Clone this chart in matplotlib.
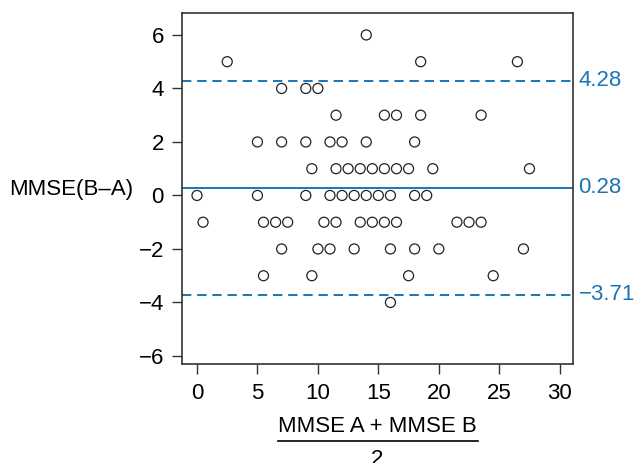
import matplotlib
matplotlib.use("Agg")
import matplotlib.pyplot as plt
from matplotlib.lines import Line2D

plt.rcParams["font.family"] = ["Liberation Sans", "DejaVu Sans"]

# Bland-Altman data: mean of the two scores (x) and difference B-A (y)
mean_ab = [14,
           2.5, 18.5, 26.5,
           7, 9, 10,
           11.5, 15.5, 16.5, 18.5, 23.5,
           5, 7, 9, 11, 12, 14, 18,
           9.5, 11.5, 12.5, 13.5, 14.5, 15.5, 16.5, 17.5, 19.5, 27.5,
           0, 5, 9, 11, 12, 13, 14, 15, 16, 18, 19,
           0.5, 5.5, 6.5, 7.5, 10.5, 11.5, 13.5, 14.5, 15.5, 16.5, 21.5, 22.5, 23.5,
           7, 10, 11, 13, 16, 18, 20, 27,
           5.5, 9.5, 17.5, 24.5,
           16]
diff_ba = [6,
           5, 5, 5,
           4, 4, 4,
           3, 3, 3, 3, 3,
           2, 2, 2, 2, 2, 2, 2,
           1, 1, 1, 1, 1, 1, 1, 1, 1, 1,
           0, 0, 0, 0, 0, 0, 0, 0, 0, 0, 0,
           -1, -1, -1, -1, -1, -1, -1, -1, -1, -1, -1, -1, -1,
           -2, -2, -2, -2, -2, -2, -2, -2,
           -3, -3, -3, -3,
           -4]

bias = 0.28
upper_loa = 4.28
lower_loa = -3.71

blue = "#1b74b6"
fs = 16

fig = plt.figure(figsize=(6.34, 4.63), dpi=100)
ax = fig.add_axes([182 / 634, 1 - 364 / 463, (573 - 182) / 634, (364 - 13) / 463])

ax.scatter(mean_ab, diff_ba, s=52, facecolors="none", edgecolors="#222222",
           linewidths=0.9, zorder=3)

ax.axhline(bias, color=blue, lw=1.4)
ax.axhline(upper_loa, color=blue, lw=1.4, linestyle=(0, (4.8, 3.0)))
ax.axhline(lower_loa, color=blue, lw=1.4, linestyle=(0, (4.8, 3.0)))

for val in [upper_loa, bias, lower_loa]:
    ax.annotate(f"{val:.2f}".replace("-", "\u2212"), xy=(1, val),
                xycoords=("axes fraction", "data"), xytext=(4, 0),
                textcoords="offset points", ha="left", va="center",
                color=blue, fontsize=fs)

ax.set_xlim(-1.24, 31.1)
ax.set_ylim(-6.3, 6.82)
ax.set_xticks(range(0, 31, 5))
ax.set_yticks(range(-6, 7, 2))
ax.tick_params(direction="out", length=7, width=1, labelsize=fs, color="#333333")
ax.tick_params(axis="x", pad=7)
ax.tick_params(axis="y", pad=6)
for sp in ax.spines.values():
    sp.set_linewidth(1.2)
    sp.set_color("#333333")

# y label, horizontal at left
fig.text(9 / 634, 1 - 189 / 463, "MMSE(B\u2013A)", ha="left", va="center", fontsize=fs)

# x label as a fraction
fig.text(377.5 / 634, 1 - 432 / 463, "MMSE A + MMSE B", ha="center", va="baseline", fontsize=fs)
fig.add_artist(Line2D([278 / 634, 478 / 634], [1 - 441 / 463, 1 - 441 / 463],
                      color="black", lw=1.2, transform=fig.transFigure))
fig.text(377.5 / 634, 1 - 449 / 463, "2", ha="center", va="top", fontsize=fs)

fig.savefig("out.png", dpi=100)
